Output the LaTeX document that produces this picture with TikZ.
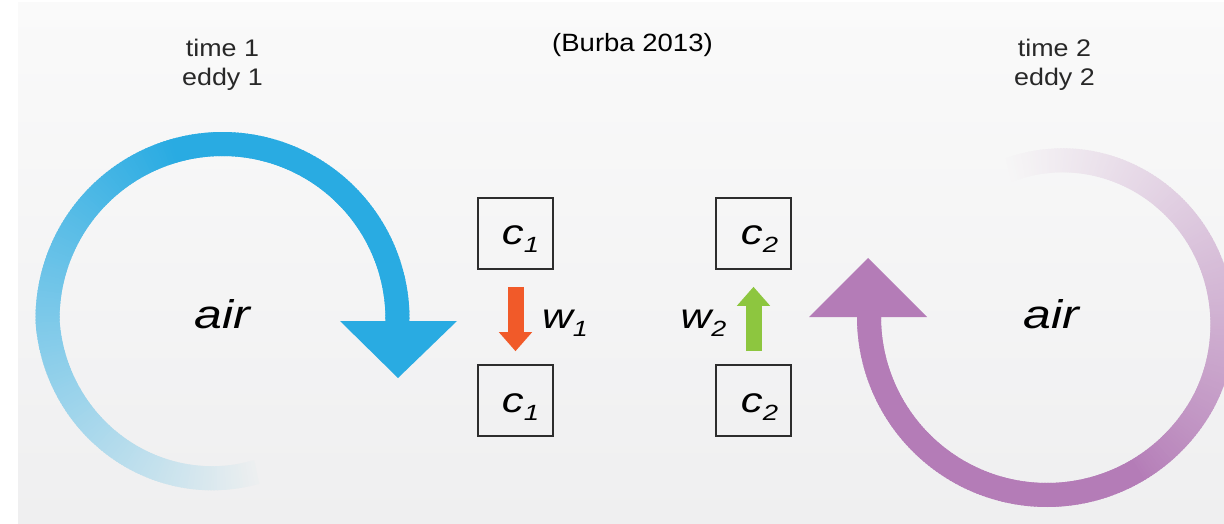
\documentclass[tikz,border=0pt]{standalone}
\usepackage{fontspec}
\setmainfont{Liberation Sans}
\usepackage{graphicx}
\usetikzlibrary{arrows.meta}

\definecolor{eddyblue}{RGB}{41,171,226}
\definecolor{eddypurple}{RGB}{180,124,183}
\definecolor{wdown}{RGB}{241,90,41}
\definecolor{wup}{RGB}{141,198,63}
\definecolor{boxline}{RGB}{45,45,45}
\definecolor{captext}{RGB}{40,40,40}
\definecolor{bgtop}{RGB}{250,250,250}
\definecolor{bgbottom}{RGB}{239,239,240}

% lowered index digit
\newcommand\subidx[1]{\raisebox{-8pt}{\fontsize{22}{22}\selectfont #1}}
% horizontally widened text
\newcommand\wide[2]{\scalebox{#1}[1]{#2}}

\begin{document}
\begin{tikzpicture}[x=1pt,y=1pt,
  conc/.style={draw=boxline, line width=1.6pt, minimum width=75pt, minimum height=71pt,
    inner sep=0pt, text height=32pt, text depth=9pt,
    font=\fontsize{35}{35}\selectfont\itshape},
  wlabel/.style={anchor=base, font=\fontsize{35}{35}\selectfont\itshape},
  airlabel/.style={anchor=base, font=\fontsize{40}{40}\selectfont\itshape},
  caption/.style={anchor=base, text=captext, font=\fontsize{24}{24}\selectfont},
  wind/.style={line width=16pt, -{Triangle[width=32pt,length=19pt]}},
  ringpiece/.style={line width=24pt}
]
\useasboundingbox (0,0) rectangle (1224,523);
\fill[white] (0,0) rectangle (1224,523);
\shade[top color=bgtop, bottom color=bgbottom] (18,0) rectangle (1224,520);

% eddy 1: blue ring, fading towards its tail at the bottom
\foreach \t in {-1,0,...,281}{
  \pgfmathsetmacro\rad{175-18*max(\t-180,0)/100}
  \pgfmathsetmacro\qq{max(\t-105,0)/176}
  \pgfmathsetmacro\fad{1-0.98*\qq}
  \pgfmathsetmacro\lev{250-11*(523-204-\rad*sin(\t))/523}
  \pgfmathtruncatemacro\segR{round(\fad*41+(1-\fad)*\lev)}
  \pgfmathtruncatemacro\segG{round(\fad*171+(1-\fad)*\lev)}
  \pgfmathtruncatemacro\segB{round(\fad*226+(1-\fad)*\lev)}
  \definecolor{seg}{RGB}{\segR,\segG,\segB}
  \draw[ringpiece, seg, shift={(222.5,204)}] (\t:\rad) arc[start angle=\t, end angle=\t+1.6, radius=\rad];
}
\fill[eddyblue] (340,202) -- (457,202) -- (398,145) -- cycle;

% eddy 2: purple ring, fading towards its tail at the top
\foreach \t in {-181,-180,...,103}{
  \pgfmathsetmacro\qa{max(\t+30,0)/133}
  \pgfmathsetmacro\rad{178-26*\qa*sqrt(\qa)}
  \pgfmathsetmacro\qb{max(\t+60,0)/163}
  \pgfmathsetmacro\fad{1-0.99*\qb^0.8}
  \pgfmathsetmacro\lev{250-11*(523-206-\rad*sin(\t))/523}
  \pgfmathtruncatemacro\segR{round(\fad*180+(1-\fad)*\lev)}
  \pgfmathtruncatemacro\segG{round(\fad*124+(1-\fad)*\lev)}
  \pgfmathtruncatemacro\segB{round(\fad*183+(1-\fad)*\lev)}
  \definecolor{seg}{RGB}{\segR,\segG,\segB}
  \draw[ringpiece, seg, shift={(1047,206)}] (\t:\rad) arc[start angle=\t, end angle=\t+1.6, radius=\rad];
}
\fill[eddypurple] (809,206) -- (927,206) -- (868,265) -- cycle;

% captions
\node[anchor=base, font=\fontsize{25}{25}\selectfont] (src) at (632.5,471) {\wide{1.1}{(Burba 2013)}};
\node[caption] (t1) at (222.5,466) {\wide{1.12}{time 1}};
\node[caption] (e1) at (222.5,437) {\wide{1.12}{eddy 1}};
\node[caption] (t2) at (1054.5,466) {\wide{1.12}{time 2}};
\node[caption] (e2) at (1054.5,437) {\wide{1.12}{eddy 2}};
\node[airlabel] (air1) at (222.5,195) {\wide{1.25}{air}};
\node[airlabel] (air2) at (1051,195) {\wide{1.25}{air}};

% concentration boxes
\node[conc] (c1a) at (515.5,289.5) {\hspace{10pt}\wide{1.25}{c\subidx{1}}};
\node[conc] (c1b) at (515.5,122.5) {\hspace{10pt}\wide{1.25}{c\subidx{1}}};
\node[conc] (c2a) at (753.5,289.5) {\hspace{12pt}\wide{1.25}{c\subidx{2}}};
\node[conc] (c2b) at (753.5,122.5) {\hspace{12pt}\wide{1.25}{c\subidx{2}}};

% vertical wind
\draw[wind, wdown, shorten <=17pt, shorten >=13pt] (c1a.south) -- (c1b.north);
\draw[wind, wup, shorten <=13pt, shorten >=17pt] (c2b.north) -- (c2a.south);
\node[wlabel] (w1) at (565,195) {\wide{1.22}{w\subidx{1}}};
\node[wlabel] (w2) at (703.5,195) {\wide{1.22}{w\subidx{2}}};
\end{tikzpicture}
\end{document}
